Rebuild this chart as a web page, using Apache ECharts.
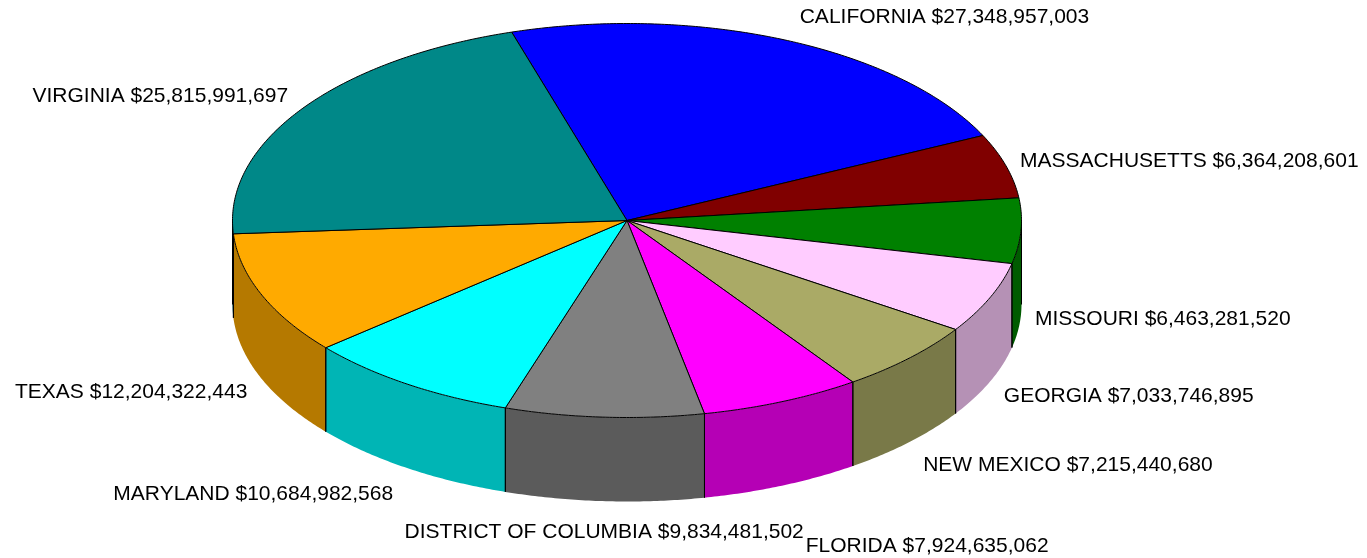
<!DOCTYPE html>
<html>
<head>
<meta charset="utf-8">
<script src="https://cdn.jsdelivr.net/npm/echarts@6/dist/echarts.min.js"></script>
<style>
  html, body { margin: 0; padding: 0; background: #fff; }
  #chart { width: 1367px; height: 558px; }
</style>
</head>
<body>
<div id="chart"></div>
<script>
// data, clockwise from the top
const states = ['CALIFORNIA', 'MASSACHUSETTS', 'MISSOURI', 'GEORGIA', 'NEW MEXICO',
  'FLORIDA', 'DISTRICT OF COLUMBIA', 'MARYLAND', 'TEXAS', 'VIRGINIA'];
const amounts = [27348957003, 6364208601, 6463281520, 7033746895, 7215440680,
  7924635062, 9834481502, 10684982568, 12204322443, 25815991697];

// slice colours (top face), walls are a darker shade
const colors = ['#0000FF', '#800000', '#008000', '#FFCCFF', '#AAAA66',
  '#FF00FF', '#808080', '#00FFFF', '#FFAA00', '#008888'];

// layout of the tilted pie
const cx = 627, cy = 220.5, rx = 394.5, ry = 197, depth = 84;
const startAngle = 107;
const labelFont = '21px "Liberation Sans", Arial, sans-serif';

function darker(hex, f) {
  const n = parseInt(hex.slice(1), 16);
  const r = Math.round(((n >> 16) & 255) * f);
  const g = Math.round(((n >> 8) & 255) * f);
  const b = Math.round((n & 255) * f);
  return 'rgb(' + r + ',' + g + ',' + b + ')';
}

// angles (degrees, counter-clockwise from +x), slices go clockwise
const total = amounts.reduce((a, b) => a + b, 0);
const angles = [];
let acc = startAngle;
amounts.forEach(v => {
  const span = v / total * 360;
  angles.push([acc, acc - span]);
  acc -= span;
});

function pt(deg, dy) {
  const r = deg * Math.PI / 180;
  return [cx + Math.cos(r) * rx, cy - Math.sin(r) * ry + (dy || 0)];
}

// label positions
const measureCtx = document.createElement('canvas').getContext('2d');
measureCtx.font = labelFont;
const labels = states.map((name, i) => {
  const mid = (angles[i][0] + angles[i][1]) / 2 * Math.PI / 180;
  const c = Math.cos(mid), s = Math.sin(mid);
  let x = cx + c * rx;
  const y = cy - s * ry + (s < 0 ? depth : 0) - s * 28 + 3;
  let align = Math.abs(c) < 0.2 ? 'center' : (c > 0 ? 'left' : 'right');
  if (align !== 'center') x += c > 0 ? 14 : -14;
  const text = name + ' $' + amounts[i].toLocaleString('en-US');
  const w = measureCtx.measureText(text).width;
  return { text, x, y, align, w };
});
function box(l) {
  if (l.align === 'left') return [l.x, l.x + l.w];
  if (l.align === 'right') return [l.x - l.w, l.x];
  return [l.x - l.w / 2, l.x + l.w / 2];
}
// push crowded labels down
const textH = 21, shift = 14, gap = 8;
const order = labels.map((l, i) => i).sort((a, b) => labels[b].y - labels[a].y);
const placed = [];
order.forEach(i => {
  const l = labels[i];
  placed.forEach(p => {
    const a = box(l), b = box(p);
    if (a[0] < b[1] + gap && b[0] < a[1] + gap && Math.abs(l.y - p.y) < textH) {
      l.y = p.y + shift;
      if (l.align === 'left' && l.x < b[1] + 2) l.x = b[1] + 2;
    }
  });
  placed.push(l);
});

function renderItem(params, api) {
  const i = params.dataIndex;
  const a0 = angles[i][0], a1 = angles[i][1];
  const children = [];

  // top face
  const pts = [[cx, cy]];
  const n = Math.max(2, Math.ceil((a0 - a1) / 0.5));
  for (let k = 0; k <= n; k++) pts.push(pt(a0 - (a0 - a1) * k / n));
  children.push({
    type: 'polygon', z2: 3,
    shape: { points: pts },
    style: { fill: colors[i], stroke: '#000', lineWidth: 1, lineJoin: 'round' }
  });

  // front wall, only the part facing us
  const hi = Math.min(a0, 0), lo = Math.max(a1, -180);
  if (hi > lo) {
    const wall = [];
    const m = Math.max(2, Math.ceil((hi - lo) / 0.5));
    for (let k = 0; k <= m; k++) wall.push(pt(hi - (hi - lo) * k / m));
    for (let k = m; k >= 0; k--) wall.push(pt(hi - (hi - lo) * k / m, depth));
    children.push({
      type: 'polygon', z2: 1,
      shape: { points: wall },
      style: { fill: darker(colors[i], 0.71), stroke: null, lineWidth: 0 }
    });
    [hi, lo].forEach(a => {
      const p = pt(a);
      children.push({
        type: 'line', z2: 2,
        shape: { x1: p[0], y1: p[1], x2: p[0], y2: p[1] + depth },
        style: { stroke: '#000', lineWidth: 1 }
      });
    });
  }

  // label
  const l = labels[i];
  children.push({
    type: 'text', z2: 4,
    style: {
      text: l.text, x: l.x, y: l.y, fill: '#000', font: labelFont,
      align: l.align, verticalAlign: 'middle',
      textAlign: l.align, textVerticalAlign: 'middle'
    }
  });

  return { type: 'group', children };
}

const chart = echarts.init(document.getElementById('chart'));
chart.setOption({
  backgroundColor: '#fff',
  animation: false,
  series: [{
    type: 'custom',
    coordinateSystem: 'none',
    data: amounts,
    renderItem: renderItem
  }]
});
</script>
</body>
</html>
